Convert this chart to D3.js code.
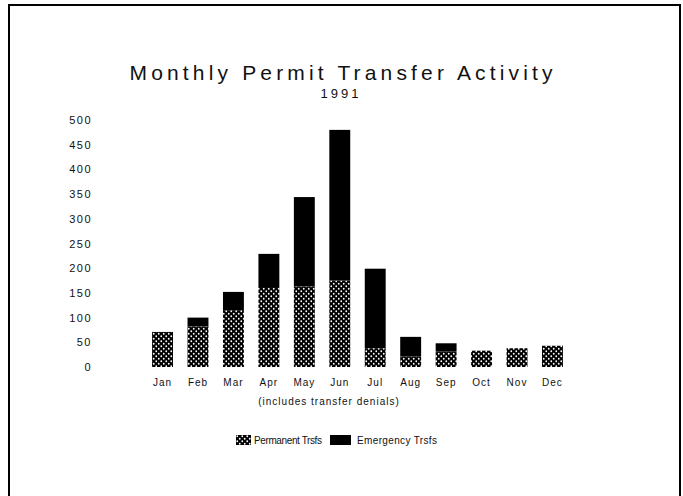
<!DOCTYPE html>
<html>
<head>
<meta charset="utf-8">
<script src="https://cdn.jsdelivr.net/npm/d3@7"></script>
<style>
  body { margin: 0; background: #fff; }
  text { font-family: "Liberation Sans", Arial, sans-serif; fill: #111; }
</style>
</head>
<body>
<div id="svgcontainer"></div>
<script>
// data
const months = ['Jan', 'Feb', 'Mar', 'Apr', 'May', 'Jun', 'Jul', 'Aug', 'Sep', 'Oct', 'Nov', 'Dec']
const permanent = [71, 82, 115, 160, 163, 175, 38, 21, 31, 33, 38, 43]
const emergency = [0, 18, 37, 69, 181, 305, 161, 40, 17, 0, 0, 0]
const y_ticks = [0, 50, 100, 150, 200, 250, 300, 350, 400, 450, 500]
const series_names = ['Permanent Trsfs', 'Emergency Trsfs']

const svg_width = 683, svg_height = 496
const plot = { left: 145, right: 570, top: 120, bottom: 367 }

let svg = d3.select('#svgcontainer')
    .append('svg')
    .attr('width', svg_width)
    .attr('height', svg_height)

// hatch pattern for permanent transfers
let defs = svg.append('defs')
let pat = defs.append('pattern')
    .attr('id', 'dots')
    .attr('patternUnits', 'userSpaceOnUse')
    .attr('width', 5)
    .attr('height', 5)
pat.append('rect').attr('width', 5).attr('height', 5).attr('fill', '#000')
pat.append('circle').attr('cx', 1.25).attr('cy', 1.25).attr('r', 0.9).attr('fill', '#fff')
pat.append('circle').attr('cx', 3.75).attr('cy', 3.75).attr('r', 0.9).attr('fill', '#fff')

// page frame
svg.append('rect')
    .attr('x', 9).attr('y', 5)
    .attr('width', 671).attr('height', 560)
    .attr('fill', 'none')
    .attr('stroke', '#000')
    .attr('stroke-width', 2)

// title
svg.append('text')
    .attr('x', 341).attr('y', 80)
    .attr('text-anchor', 'middle')
    .attr('font-size', 21)
    .attr('textLength', 423)
    .text('Monthly Permit Transfer Activity')
svg.append('text')
    .attr('x', 341).attr('y', 98)
    .attr('text-anchor', 'middle')
    .attr('font-size', 13)
    .attr('letter-spacing', 3)
    .text('1991')

// scales
let xScale = d3.scaleBand().domain(months).range([plot.left, plot.right]).paddingInner(0.41).paddingOuter(0.2),
    yScale = d3.scaleLinear().domain([0, 500]).range([plot.bottom, plot.top])

// y axis, labels only
let y_axis = svg.append('g')
    .attr('transform', 'translate(96,0)')
    .call(d3.axisLeft(yScale).tickValues(y_ticks).tickSize(0).tickPadding(4))
y_axis.select('.domain').remove()
y_axis.selectAll('text')
    .attr('font-family', '"Liberation Sans", Arial, sans-serif')
    .attr('font-size', 11)
    .attr('letter-spacing', 1.5)
    .attr('fill', '#111')

// x axis, labels only
let x_axis = svg.append('g')
    .attr('transform', 'translate(0,' + 379 + ')')
    .call(d3.axisBottom(xScale).tickSize(0).tickPadding(0))
x_axis.select('.domain').remove()
x_axis.selectAll('text')
    .attr('font-family', '"Liberation Sans", Arial, sans-serif')
    .attr('font-size', 10)
    .attr('letter-spacing', 1)
    .attr('fill', '#111')

svg.append('text')
    .attr('x', 329).attr('y', 405)
    .attr('text-anchor', 'middle')
    .attr('font-size', 10)
    .attr('letter-spacing', 1)
    .text('(includes transfer denials)')

// stacked bars
let stack_data = months.map((m, i) => ({ month: m, permanent: permanent[i], emergency: emergency[i] }))
let stacked = d3.stack().keys(['permanent', 'emergency'])(stack_data)
let fills = ['url(#dots)', '#000']

svg.append('g').selectAll('g')
    .data(stacked)
    .join('g')
    .attr('fill', (d, i) => fills[i])
    .selectAll('rect')
    .data(d => d.filter(s => s[1] > s[0]))
    .join('rect')
    .attr('x', d => xScale(d.data.month))
    .attr('y', d => yScale(d[1]))
    .attr('height', d => yScale(d[0]) - yScale(d[1]))
    .attr('width', xScale.bandwidth())

// legend
let legend = svg.append('g').attr('transform', 'translate(236,435)')
legend.append('rect').attr('x', 0).attr('y', 0).attr('width', 15).attr('height', 10).attr('fill', fills[0])
legend.append('text').attr('x', 18).attr('y', 9).attr('font-size', 10).attr('textLength', 68).text(series_names[0])
legend.append('rect').attr('x', 94).attr('y', 0).attr('width', 21).attr('height', 10).attr('fill', fills[1])
legend.append('text').attr('x', 121).attr('y', 9).attr('font-size', 10).attr('textLength', 80).text(series_names[1])
</script>
</body>
</html>
